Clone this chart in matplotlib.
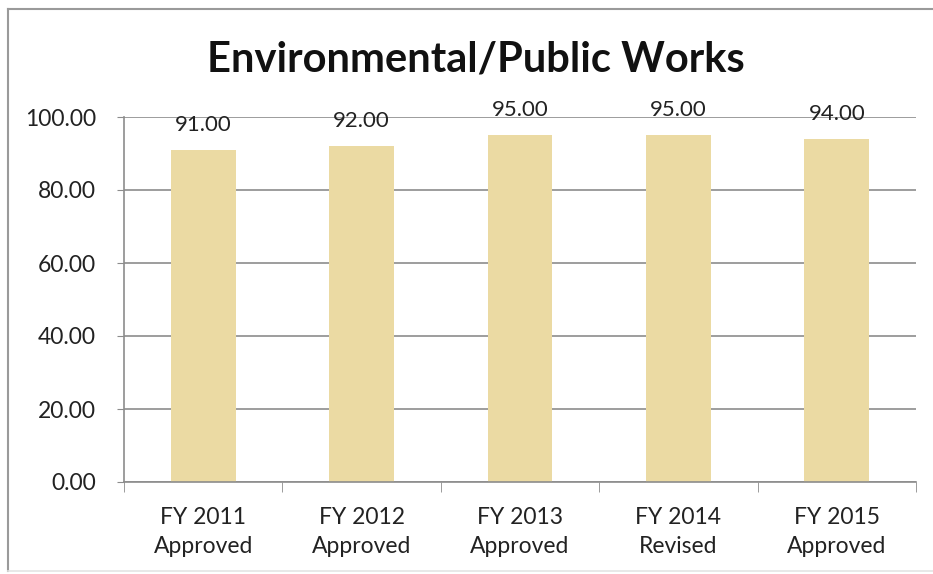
import matplotlib.pyplot as plt
import numpy as np

categories = ["FY 2011\nApproved", "FY 2012\nApproved", "FY 2013\nApproved",
              "FY 2014\nRevised", "FY 2015\nApproved"]
values = [91.00, 92.00, 95.00, 95.00, 94.00]
yticks = [0, 20, 40, 60, 80, 100]

plt.rcParams['font.family'] = ['Lato', 'DejaVu Sans']

fig = plt.figure(figsize=(9.33, 5.74), dpi=100)
ax = fig.add_axes([124 / 933, 1 - 482 / 574, 792 / 933, 365 / 574])

x = np.arange(len(values))
bars = ax.bar(x, values, width=0.41, color='#ebdaa3', zorder=2)

# value labels above each bar
for xi, v in zip(x, values):
    ax.annotate(f"{v:.2f}", (xi, v), xytext=(0, 18), textcoords='offset points',
                ha='center', va='center', fontsize=16, color='#222222')

ax.set_xlim(-0.5, len(values) - 0.5)
ax.set_ylim(0, 100)
ax.set_yticks(yticks)
ax.set_yticklabels([f"{t:.2f}" for t in yticks], fontsize=16.5, color='#222222')
ax.yaxis.grid(True, color='#8c8c8c', linewidth=1.2, zorder=0)
ax.set_axisbelow(True)

ax.set_xticks(x)
ax.set_xticklabels(categories, fontsize=16.5, color='#222222', linespacing=1.45)
ax.tick_params(axis='x', length=0, pad=18)
ax.tick_params(axis='y', length=5, color='#8c8c8c', pad=15)
# category boundary ticks below the axis
ax.set_xticks(np.arange(-0.5, len(values)), minor=True)
ax.tick_params(axis='x', which='minor', length=7, color='#8c8c8c')

for s in ['top', 'right']:
    ax.spines[s].set_visible(False)
for s in ['left', 'bottom']:
    ax.spines[s].set_color('#8c8c8c')
    ax.spines[s].set_linewidth(1.2)

fig.text(0.510, 0.897, "Environmental/Public Works", ha='center', va='center',
         fontsize=30, fontweight='bold', color='#111111')

# outer chart frame
fig.add_artist(plt.Line2D([8 / 933, 8 / 933], [3 / 574, 1 - 9 / 574], color='#9a9a9a', lw=1.5))
fig.add_artist(plt.Line2D([8 / 933, 1], [1 - 9 / 574, 1 - 9 / 574], color='#9a9a9a', lw=1.5))
fig.add_artist(plt.Line2D([8 / 933, 1], [3 / 574, 3 / 574], color='#e4e4e4', lw=1.2))

fig.savefig('out.png', dpi=100)
